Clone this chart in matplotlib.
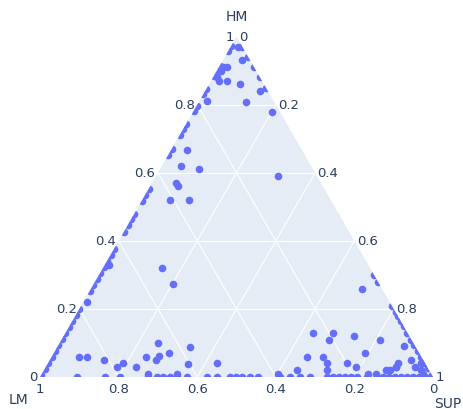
import numpy as np
import matplotlib.pyplot as plt
from matplotlib.patches import Polygon

# samples inside the triangle: HM, LM, SUP fractions
hm = [0.97, 0.93, 0.92, 0.91, 0.90, 0.88, 0.87, 0.87, 0.86, 0.84, 0.81, 0.80, 0.78,
      0.66, 0.62, 0.61, 0.57, 0.56, 0.52, 0.52, 0.59, 0.32, 0.27, 0.33, 0.22, 0.26,
      0.10, 0.09, 0.07, 0.06, 0.06, 0.05, 0.03, 0.04, 0.03, 0.05, 0.06, 0.06, 0.04,
      0.04, 0.01, 0.01,
      0.13, 0.13, 0.11, 0.12, 0.11, 0.06, 0.06, 0.04, 0.04, 0.07, 0.03, 0.02, 0.02,
      0.01, 0.05, 0.04, 0.03, 0.02, 0.02, 0.01, 0.03, 0.09, 0.04, 0.03, 0.02, 0.01,
      0.01]
lm = [0.01, 0.02, 0.07, 0.08, 0.09, 0.11, 0.11, 0.09, 0.06, 0.02, 0.17, 0.07, 0.02,
      0.29, 0.33, 0.29, 0.37, 0.37, 0.41, 0.36, 0.10, 0.53, 0.52, 0.66, 0.77, 0.05,
      0.65, 0.58, 0.63, 0.66, 0.70, 0.68, 0.74, 0.77, 0.79, 0.82, 0.85, 0.87, 0.61,
      0.53, 0.72, 0.64,
      0.24, 0.19, 0.21, 0.14, 0.08, 0.29, 0.25, 0.25, 0.20, 0.14, 0.18, 0.26, 0.34,
      0.39, 0.03, 0.07, 0.08, 0.10, 0.11, 0.14, 0.08, 0.03, 0.01, 0.03, 0.02, 0.02,
      0.16]
sup = [0.02, 0.05, 0.02, 0.01, 0.01, 0.01, 0.02, 0.04, 0.08, 0.14, 0.02, 0.12, 0.20,
       0.04, 0.05, 0.10, 0.06, 0.07, 0.07, 0.12, 0.31, 0.15, 0.20, 0.01, 0.01, 0.69,
       0.25, 0.34, 0.29, 0.27, 0.24, 0.27, 0.23, 0.19, 0.18, 0.14, 0.09, 0.07, 0.36,
       0.43, 0.27, 0.34,
       0.63, 0.68, 0.68, 0.74, 0.81, 0.65, 0.69, 0.71, 0.76, 0.80, 0.79, 0.72, 0.65,
       0.60, 0.92, 0.89, 0.89, 0.88, 0.87, 0.85, 0.90, 0.88, 0.95, 0.94, 0.96, 0.97,
       0.83]

# samples with no SUP (HM + LM = 1)
hm_no_sup = [0.974, 0.959, 0.915, 0.900, 0.885, 0.847, 0.832, 0.797, 0.782, 0.744,
             0.729, 0.712, 0.671, 0.653, 0.553, 0.535, 0.518, 0.479, 0.465, 0.447,
             0.426, 0.376, 0.359, 0.341, 0.324, 0.306, 0.288, 0.271, 0.253, 0.200,
             0.182, 0.165, 0.147, 0.129, 0.112, 0.094, 0.076, 0.059, 0.041, 0.024,
             0.006]

# samples with no LM (HM + SUP = 1)
hm_no_lm = [0.97, 0.94, 0.91, 0.88, 0.85, 0.30, 0.28, 0.21, 0.19, 0.18, 0.165, 0.15,
            0.13, 0.11, 0.095, 0.075, 0.06, 0.04, 0.025, 0.005]

# samples with no HM (LM + SUP = 1)
sup_no_hm = [0.094, 0.165, 0.204, 0.275, 0.298, 0.313, 0.331, 0.349, 0.374, 0.425,
             0.450, 0.483, 0.499, 0.514, 0.534, 0.555, 0.611, 0.636, 0.662, 0.687,
             0.730, 0.746, 0.761, 0.776, 0.791, 0.807, 0.832, 0.858, 0.873, 0.888,
             0.903, 0.919, 0.934, 0.949, 0.964, 0.980, 0.995]

ticks = [0, 0.2, 0.4, 0.6, 0.8, 1]
tick_text = ['0', '0.2', '0.4', '0.6', '0.8', '1']

a = np.concatenate([hm, hm_no_sup, hm_no_lm, np.zeros(len(sup_no_hm))])
b = np.concatenate([lm, 1 - np.array(hm_no_sup), np.zeros(len(hm_no_lm)), 1 - np.array(sup_no_hm)])
c = np.concatenate([sup, np.zeros(len(hm_no_sup)), 1 - np.array(hm_no_lm), sup_no_hm])
tot = a + b + c
a, b, c = a / tot, b / tot, c / tot

h = np.sqrt(3) / 2


def to_xy(a, b, c):
    # HM at the top, LM bottom-left, SUP bottom-right
    return c + a / 2, a * h


fig = plt.figure(figsize=(4.63, 4.10), dpi=100)
ax = fig.add_axes([0, 0, 1, 1])
px = 1 / 393
ax.set_xlim(-40 * px, 423 * px)
ax.set_ylim(-32 * px, 378 * px)
ax.axis('off')

tri = Polygon([(0, 0), (1, 0), (0.5, h)], closed=True, facecolor='#E5ECF6',
              edgecolor='none', zorder=0)
ax.add_patch(tri)

# white grid lines for each of the three axes
for t in ticks[1:-1]:
    for p, q in [((t, 1 - t, 0), (t, 0, 1 - t)),
                 ((1 - t, t, 0), (0, t, 1 - t)),
                 ((1 - t, 0, t), (0, 1 - t, t))]:
        x0, y0 = to_xy(*p)
        x1, y1 = to_xy(*q)
        ax.plot([x0, x1], [y0, y1], color='white', lw=0.8, zorder=1)

x, y = to_xy(a, b, c)
sc = ax.scatter(x, y, s=30, color='#636efa', linewidths=0, zorder=3)
sc.set_clip_path(tri)

tc = '#2a3f5f'
fs = 9.5
for t, lab in zip(ticks, tick_text):
    # HM labels on the left edge
    xe, ye = to_xy(t, 1 - t, 0)
    ax.text(xe - 2.5 * px, ye, lab, ha='right', va='center', fontsize=fs, color=tc)
    # LM labels under the bottom edge
    xe, ye = to_xy(0, t, 1 - t)
    ax.text(xe, ye - 12 * px, lab, ha='center', va='center', fontsize=fs, color=tc)
    # SUP labels on the right edge
    xe, ye = to_xy(1 - t, 0, t)
    ax.text(xe + 2.5 * px, ye, lab, ha='left', va='center', fontsize=fs, color=tc)

ax.text(0.5, 361 * px, 'HM', ha='center', va='center', fontsize=10, color=tc)
ax.text(-22 * px, -22 * px, 'LM', ha='center', va='center', fontsize=10, color=tc)
ax.text(408 * px, -26 * px, 'SUP', ha='center', va='center', fontsize=10, color=tc)

fig.savefig('out.png', dpi=100)
